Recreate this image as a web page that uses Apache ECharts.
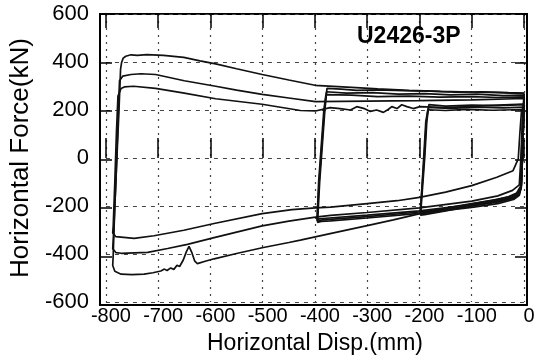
<!DOCTYPE html>
<html>
<head>
<meta charset="utf-8">
<script src="https://cdn.jsdelivr.net/npm/echarts@6/dist/echarts.min.js"></script>
<style>
  html, body { margin: 0; padding: 0; background: #fff; }
  #chart { width: 540px; height: 360px; }
</style>
</head>
<body>
<div id="chart"></div>
<script>
// Specimen label and axis ranges [min, max, step]
const specimenName = 'U2426-3P';
const dispRange = [-800, 0, 100];
const forceRange = [-600, 600, 200];
const dispTitle = 'Horizontal Disp.(mm)';
const forceTitle = 'Horizontal Force(kN)';

// Hysteresis loops, [displacement mm, force kN]
// Cycles to -200 mm
const cycle200a = [[0,222],[-50,218],[-100,220],[-150,216],[-182,222],[-186,150],[-190,0],[-195,-150],[-198,-238],[-190,-236],[-150,-220],[-100,-200],[-50,-180],[-25,-168],[-12,-155],[-6,-130],[-3,0],[-1,150],[0,222]];
const cycle200b = [[0,212],[-40,209],[-90,212],[-140,207],[-183,211],[-187,150],[-191,0],[-196,-150],[-198,-232],[-188,-230],[-150,-214],[-100,-195],[-50,-176],[-25,-164],[-12,-150],[-6,-125],[-3,0],[-1,150],[0,212]];
const cycle200c = [[0,202],[-60,199],[-110,203],[-150,198],[-184,201],[-188,150],[-192,0],[-196,-150],[-199,-226],[-188,-224],[-150,-209],[-100,-190],[-50,-172],[-25,-160],[-12,-146],[-6,-120],[-3,0],[-1,150],[0,202]];

// Cycles to -400 mm
const cycle400a = [[0,270],[-30,272],[-80,276],[-130,274],[-180,279],[-230,281],[-280,284],[-320,282],[-350,287],[-377,290],[-381,200],[-386,50],[-391,-100],[-395,-268],[-388,-264],[-370,-262],[-300,-250],[-200,-231],[-100,-206],[-50,-190],[-20,-173],[-9,-155],[-5,-120],[-3,0],[-1,150],[0,270]];
const cycle400b = [[0,262],[-40,260],[-90,266],[-140,263],[-190,268],[-240,266],[-290,272],[-340,270],[-378,276],[-382,200],[-387,50],[-392,-100],[-396,-262],[-385,-258],[-300,-244],[-200,-225],[-100,-200],[-50,-184],[-20,-168],[-9,-150],[-5,-115],[-3,0],[-1,150],[0,262]];
const cycle400c = [[0,255],[-50,252],[-100,256],[-160,254],[-220,258],[-280,256],[-330,262],[-379,264],[-383,200],[-388,50],[-393,-100],[-396,-255],[-385,-252],[-300,-238],[-200,-220],[-100,-194],[-50,-178],[-20,-162],[-9,-145],[-5,-110],[-3,0],[-1,150],[0,255]];

// Cycles to -800 mm
const cycle800a = [[0,268],[-50,272],[-100,275],[-160,278],[-220,282],[-280,288],[-330,294],[-400,303],[-450,325],[-501,348],[-550,372],[-590,392],[-620,405],[-651,419],[-690,428],[-722,431],[-740,428],[-752,430],[-762,424],[-767,416],[-770,398],[-772,370],[-775,200],[-779,0],[-783,-200],[-786,-400],[-787,-448],[-783,-472],[-771,-484],[-750,-486],[-727,-484],[-710,-478],[-695,-471],[-688,-463],[-683,-469],[-676,-458],[-670,-464],[-664,-447],[-659,-452],[-652,-425],[-646,-390],[-641,-368],[-636,-392],[-630,-430],[-625,-440],[-610,-430],[-593,-420],[-550,-398],[-501,-374],[-450,-352],[-428,-342],[-371,-315],[-300,-282],[-250,-258],[-199,-232],[-150,-212],[-100,-192],[-60,-176],[-30,-162],[-14,-146],[-7,-120],[-5,0],[-3,150],[0,268]];
const cycle800b = [[0,248],[-100,242],[-200,239],[-300,237],[-399,235],[-450,250],[-501,265],[-550,283],[-590,299],[-650,322],[-705,348],[-733,351],[-752,348],[-768,341],[-774,322],[-777,150],[-781,-100],[-785,-300],[-787,-378],[-781,-394],[-771,-397],[-720,-393],[-682,-377],[-644,-360],[-593,-332],[-501,-283],[-450,-263],[-399,-246],[-370,-239],[-300,-227],[-200,-208],[-100,-180],[-50,-158],[-22,-135],[-9,-112],[-6,0],[-3,150],[0,248]];
const cycle800c = [[0,225],[-50,220],[-100,215],[-150,210],[-199,214],[-212,206],[-224,214],[-234,222],[-243,206],[-253,214],[-260,202],[-269,190],[-282,200],[-294,194],[-307,207],[-320,214],[-332,200],[-352,206],[-371,210],[-399,196],[-428,198],[-501,224],[-590,247],[-650,270],[-705,290],[-747,299],[-765,296],[-771,290],[-777,258],[-780,100],[-783,-100],[-786,-280],[-787,-312],[-781,-328],[-746,-335],[-708,-324],[-651,-301],[-593,-273],[-501,-232],[-444,-215],[-399,-208],[-370,-205],[-300,-190],[-243,-178],[-200,-164],[-150,-142],[-100,-115],[-52,-80],[-21,-53],[-11,-4],[-8,100],[-5,190],[0,225]];

const loops = [cycle200a, cycle200b, cycle200c, cycle400a, cycle400b, cycle400c, cycle800a, cycle800b, cycle800c];

const FONT = '"Liberation Sans", Arial, Helvetica, sans-serif';
const INK = '#111';

const chart = echarts.init(document.getElementById('chart'), null, { renderer: 'canvas' });

const hiddenTickAxis = (extra) => Object.assign({
  type: 'value',
  axisLine: { show: false },
  axisLabel: { show: false },
  splitLine: { show: false },
  axisTick: { show: true, inside: true, length: 12, lineStyle: { color: '#000', width: 1.5 } }
}, extra);

chart.setOption({
  animation: false,
  backgroundColor: '#fff',
  title: {
    text: specimenName,
    left: 357,
    top: 25,
    padding: 0,
    textStyle: { fontFamily: FONT, fontSize: 23, fontWeight: 'bold', color: '#000' }
  },
  grid: [
    // plotting area: -800..0 and -600..600
    { left: 105, right: 16, top: 14, bottom: 55, show: false },
    // outer frame
    { left: 100, right: 13, top: 14, bottom: 55, show: true, borderColor: '#000', borderWidth: 2, backgroundColor: 'transparent' }
  ],
  xAxis: [
    {
      gridIndex: 0, type: 'value', position: 'bottom',
      min: dispRange[0], max: dispRange[1], interval: dispRange[2],
      axisLine: { show: false },
      axisTick: { show: true, inside: true, length: 20, lineStyle: { color: '#000', width: 1.5 } },
      axisLabel: { fontFamily: FONT, fontSize: 20, color: '#000', margin: 4, padding: [0, 0, 0, 10] },
      splitLine: { show: true, lineStyle: { color: '#444', width: 1.2, type: [2, 5] } },
      name: dispTitle, nameLocation: 'middle', nameGap: 30,
      nameTextStyle: { fontFamily: FONT, fontSize: 23, color: '#000' }
    },
    hiddenTickAxis({ gridIndex: 0, position: 'top', min: dispRange[0], max: dispRange[1], interval: dispRange[2], axisTick: { show: true, inside: true, length: 14, lineStyle: { color: '#000', width: 1.5 } } }),
    { gridIndex: 1, type: 'value', min: 0, max: 1, show: false }
  ],
  yAxis: [
    {
      gridIndex: 0, type: 'value', position: 'left',
      min: forceRange[0], max: forceRange[1], interval: forceRange[2],
      axisLine: { show: false },
      axisTick: { show: false },
      axisLabel: { fontFamily: FONT, fontSize: 22, color: '#000', margin: 17, padding: [8, 0, 0, 0] },
      splitLine: { show: true, lineStyle: { color: '#444', width: 1.2, type: [4, 5] } },
      name: forceTitle, nameLocation: 'middle', nameGap: 70, nameRotate: 90,
      nameTextStyle: { fontFamily: FONT, fontSize: 26, color: '#000' }
    },
    hiddenTickAxis({ gridIndex: 1, position: 'left', min: forceRange[0], max: forceRange[1], interval: forceRange[2] }),
    hiddenTickAxis({ gridIndex: 1, position: 'right', min: forceRange[0], max: forceRange[1], interval: forceRange[2] })
  ],
  series: loops.map((pts) => ({
    type: 'line',
    xAxisIndex: 0,
    yAxisIndex: 0,
    data: pts,
    showSymbol: false,
    symbol: 'none',
    smooth: false,
    lineStyle: { color: INK, width: 1.7 },
    emphasis: { disabled: true },
    silent: true
  }))
});
</script>
</body>
</html>
